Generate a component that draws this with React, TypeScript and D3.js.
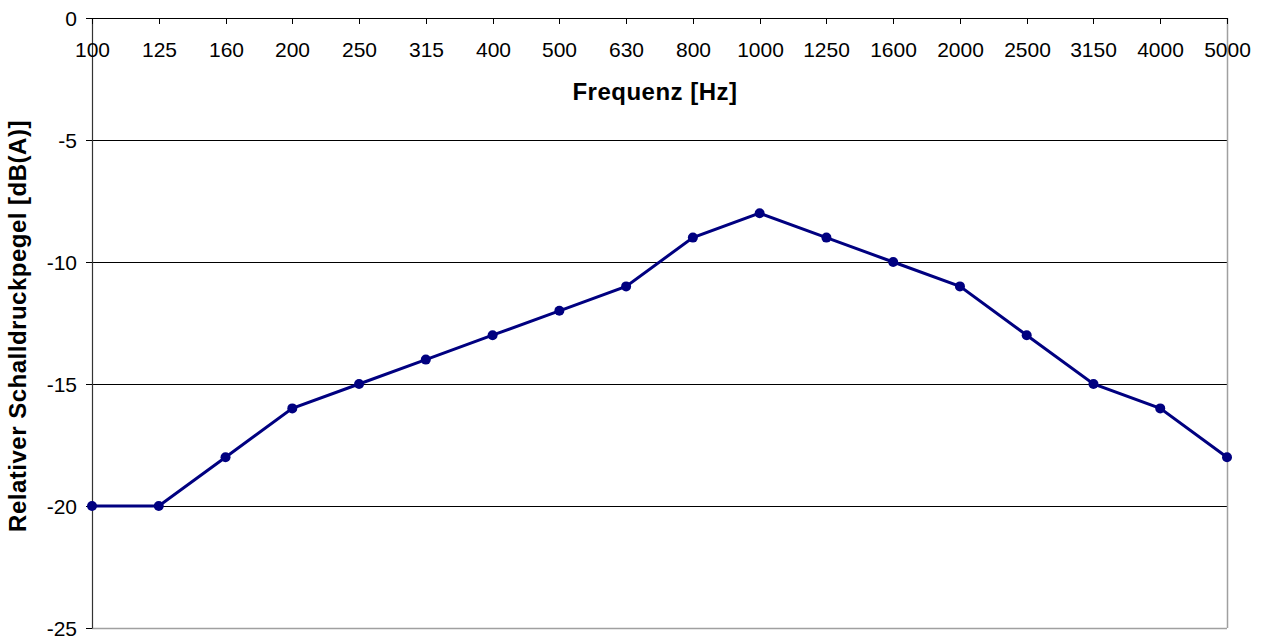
import React from 'react';
import * as d3 from 'd3';

const frequencies = ['100', '125', '160', '200', '250', '315', '400', '500', '630', '800', '1000', '1250', '1600', '2000', '2500', '3150', '4000', '5000'];
const levels = [-20, -20, -18, -16, -15, -14, -13, -12, -11, -9, -8, -9, -10, -11, -13, -15, -16, -18];
const yTicks = [0, -5, -10, -15, -20, -25];

const width = 1263;
const height = 636;
const margin = { top: 18, right: 36, bottom: 8, left: 92 };
const font = "'Liberation Sans', Arial, sans-serif";

export default function App() {
  const innerW = width - margin.left - margin.right;
  const innerH = height - margin.top - margin.bottom;

  const x = d3.scalePoint<string>().domain(frequencies).range([0, innerW]);
  const y = d3.scaleLinear().domain([-25, 0]).range([innerH, 0]);

  const pts = frequencies.map((f, i) => ({ f, v: levels[i] }));
  const line = d3.line<{ f: string; v: number }>()
    .x(d => x(d.f) ?? 0)
    .y(d => y(d.v));

  return (
    <div style={{ position: 'absolute', left: 0, top: 0 }}>
      <svg width={width} height={height} style={{ display: 'block', fontFamily: font }}>
        <rect width={width} height={height} fill="#fff" />
        <g transform={`translate(${margin.left},${margin.top})`}>
          {/* grid lines */}
          {yTicks.filter(t => t !== 0 && t !== -25).map(t => (
            <line key={t} x1={0} x2={innerW} y1={Math.round(y(t)) + 0.5} y2={Math.round(y(t)) + 0.5} stroke="#000" strokeWidth={1} />
          ))}
          {/* frame: right & bottom gray */}
          <line x1={innerW + 0.5} x2={innerW + 0.5} y1={0} y2={innerH} stroke="#a0a0a0" strokeWidth={1.5} />
          <line x1={0} x2={innerW} y1={innerH + 0.5} y2={innerH + 0.5} stroke="#a0a0a0" strokeWidth={1.5} />
          {/* left axis */}
          <line x1={0.5} x2={0.5} y1={0} y2={innerH + 0.5} stroke="#333" strokeWidth={1.2} />
          {yTicks.map(t => (
            <g key={t} transform={`translate(0,${Math.round(y(t)) + 0.5})`}>
              <line x1={-6} x2={0} stroke="#000" strokeWidth={1} />
              <text x={-15} dy="0.35em" textAnchor="end" fontSize={21} fill="#000">{t}</text>
            </g>
          ))}
          {/* top axis */}
          <line x1={0} x2={innerW} y1={0.5} y2={0.5} stroke="#000" strokeWidth={1.2} />
          {frequencies.map(f => (
            <g key={f} transform={`translate(${Math.round(x(f) ?? 0) + 0.5},0)`}>
              <line y1={0} y2={6} stroke="#000" strokeWidth={1} />
              <text y={32} dy="0.35em" textAnchor="middle" fontSize={21} fill="#000">{f}</text>
            </g>
          ))}
          <text x={655 - margin.left} y={74} dy="0.35em" textAnchor="middle" fontSize={24} fontWeight="bold" letterSpacing={0.5} fill="#000">Frequenz [Hz]</text>
          {/* series */}
          <path d={line(pts) ?? ''} fill="none" stroke="#000080" strokeWidth={3} />
          {pts.map(d => (
            <circle key={d.f} cx={x(d.f)} cy={y(d.v)} r={5} fill="#000080" />
          ))}
        </g>
        <text transform={`translate(18,326) rotate(-90)`} dy="0.35em" textAnchor="middle" fontSize={24} fontWeight="bold" letterSpacing={0.5} fill="#000">Relativer Schalldruckpegel [dB(A)]</text>
      </svg>
    </div>
  );
}
